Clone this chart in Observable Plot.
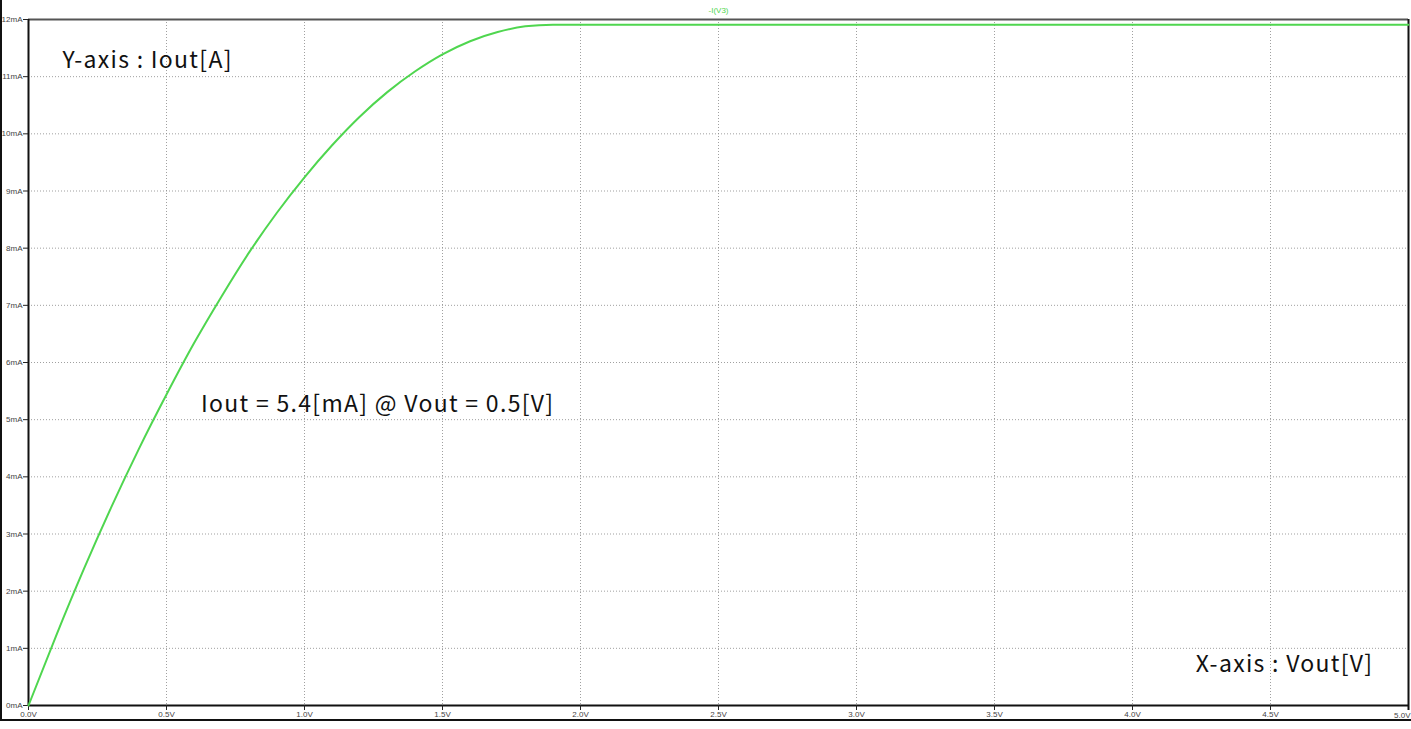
<!DOCTYPE html>
<html>
<head>
<meta charset="utf-8">
<script src="https://cdn.jsdelivr.net/npm/d3@7"></script>
<script src="https://cdn.jsdelivr.net/npm/@observablehq/plot@0.6"></script>
<style>
  html, body { margin: 0; padding: 0; background: #fff; }
  #wrap { position: relative; width: 1411px; height: 729px; overflow: hidden; }
  #wrap svg { position: absolute; left: 0; top: 0; }
  #wrap svg g[font-size="23"] text { letter-spacing: 1.3px; }
  #border { position: absolute; left: 0; top: 0; width: 1411px; height: 719px;
            border-left: 2px solid #111; border-bottom: 2px solid #111; box-sizing: content-box; pointer-events: none; }
</style>
</head>
<body>
<div id="wrap"><div id="border"></div></div>
<script>
// Vout [V]
const vout = [0, 0.1, 0.2, 0.3, 0.4, 0.5, 0.6, 0.7, 0.8, 0.9, 1.0,
              1.1, 1.2, 1.3, 1.4, 1.5, 1.6, 1.7, 1.8, 1.9, 2.0,
              2.5, 3.0, 3.5, 4.0, 4.5, 5.0];
// Iout [mA]
const iout = [0, 1.22, 2.38, 3.47, 4.49, 5.44, 6.34, 7.16, 7.93, 8.62, 9.24,
              9.80, 10.30, 10.73, 11.09, 11.39, 11.62, 11.78, 11.88, 11.91, 11.91,
              11.91, 11.91, 11.91, 11.91, 11.91, 11.91];
const xTicks = [0, 0.5, 1.0, 1.5, 2.0, 2.5, 3.0, 3.5, 4.0, 4.5, 5.0];
const yTicks = [0, 1, 2, 3, 4, 5, 6, 7, 8, 9, 10, 11, 12];
const traceName = "-I(V3)";
const yLabel = "Y-axis : Iout[A]";
const xLabel = "X-axis : Vout[V]";
const note = "Iout = 5.4[mA] @ Vout = 0.5[V]";

const trace = vout.map((v, i) => ({v, i: iout[i]}));
const green = "#4fd64f";
const jp = "'Noto Sans CJK JP', 'Noto Sans', sans-serif";
const tickFont = "'Liberation Sans', Arial, sans-serif";
const fmtX = d => d.toFixed(1) + "V";
const lastX = xTicks[xTicks.length - 1];

const chart = Plot.plot({
  width: 1411,
  height: 729,
  marginLeft: 28,
  marginRight: 3,
  marginTop: 19,
  marginBottom: 24,
  x: {type: "linear", domain: [0, 5]},
  y: {type: "linear", domain: [0, 12]},
  style: {background: "transparent", fontFamily: tickFont},
  marks: [
    Plot.gridX(xTicks.slice(1, -1), {stroke: "#888", strokeOpacity: 0.8, strokeDasharray: "1,2"}),
    Plot.gridY(yTicks.slice(1, -1), {stroke: "#888", strokeOpacity: 0.8, strokeDasharray: "1,2"}),
    Plot.ruleY([12], {stroke: "#555", strokeWidth: 2}),
    Plot.ruleY([0], {stroke: "#111", strokeWidth: 2}),
    Plot.ruleX([0], {stroke: "#111", strokeWidth: 2}),
    Plot.ruleX([lastX], {stroke: "#111", strokeWidth: 2, insetBottom: -5}),
    Plot.axisX({ticks: xTicks.slice(0, -1), tickFormat: fmtX, tickSize: 5, tickPadding: 1,
                fontSize: 8, fill: "#444", stroke: "#222", label: null}),
    Plot.text([lastX], {x: d => d, frameAnchor: "bottom", text: fmtX, textAnchor: "end", lineAnchor: "top",
                        dy: 7, dx: 2, fontSize: 8, fill: "#444"}),
    Plot.axisY({ticks: yTicks, tickFormat: d => d + "mA", tickSize: 5, tickPadding: 1,
                fontSize: 8, fill: "#444", stroke: "#222", label: null}),
    Plot.line(trace, {x: "v", y: "i", stroke: green, strokeWidth: 2, curve: "monotone-x"}),
    Plot.text([traceName], {frameAnchor: "top", dy: -12, fontSize: 8, fill: green}),
    Plot.text([yLabel], {x: 0.123, y: 11.16, text: d => d, textAnchor: "start", lineAnchor: "bottom",
                         fontSize: 23, fontFamily: jp, fill: "#111"}),
    Plot.text([note], {x: 0.625, y: 5.14, text: d => d, textAnchor: "start", lineAnchor: "bottom",
                       fontSize: 23, fontFamily: jp, fill: "#111"}),
    Plot.text([xLabel], {x: 4.873, y: 0.58, text: d => d, textAnchor: "end", lineAnchor: "bottom",
                         fontSize: 23, fontFamily: jp, fill: "#111"})
  ]
});
document.getElementById("wrap").prepend(chart);
</script>
</body>
</html>
